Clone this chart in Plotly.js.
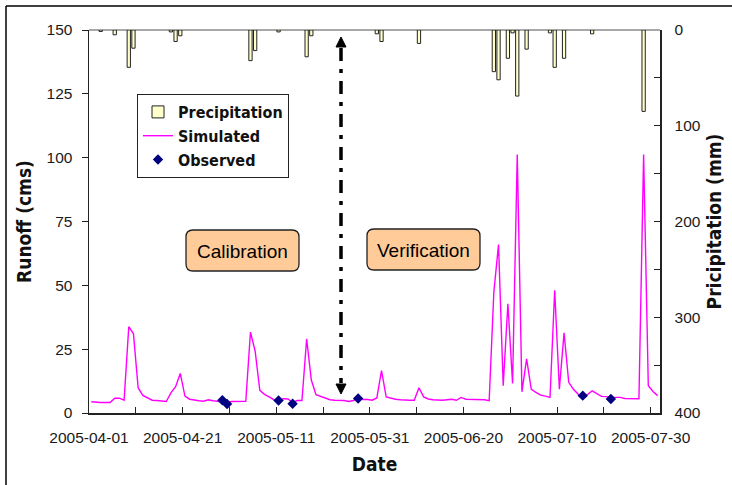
<!DOCTYPE html>
<html>
<head>
<meta charset="utf-8">
<script src="https://cdn.plot.ly/plotly-3.0.1.min.js"></script>
<style>
  html, body { margin: 0; padding: 0; background: #fff; }
  #chart { width: 732px; height: 485px; }
</style>
</head>
<body>
<div id="chart"></div>
<script>
// ---------------- DATA ----------------
const startDate = '2005-04-01';
// Simulated daily runoff (cms), 2005-04-01 .. 2005-07-31
const simulated = [
  4.4, 4.2, 4.1, 4.1, 4.1, 5.8, 5.8, 5.0, 33.8, 31.0,
  9.9, 6.9, 5.9, 5.0, 4.9, 4.6, 4.5, 7.9, 10.3, 15.5,
  6.6, 5.4, 5.0, 4.8, 4.6, 5.2, 4.8, 4.6, 4.6, 4.2,
  4.5, 4.5, 4.6, 4.6, 31.7, 24.2, 8.9, 7.3, 6.3, 5.2,
  4.9, 5.6, 5.5, 4.2, 4.9, 4.9, 29.0, 12.9, 7.2, 6.6,
  5.8, 5.2, 5.0, 5.0, 4.9, 4.5, 4.9, 5.7, 5.3, 5.3,
  5.0, 5.9, 16.6, 6.3, 5.8, 5.4, 5.2, 5.0, 5.0, 5.0,
  9.9, 6.3, 5.5, 5.2, 5.0, 5.0, 5.2, 5.4, 5.0, 6.1,
  5.4, 5.3, 5.2, 5.2, 5.2, 4.8, 47.4, 66.0, 10.7, 42.8,
  11.6, 101.2, 8.3, 21.2, 9.3, 8.1, 7.0, 6.6, 6.1, 48.1,
  9.3, 31.4, 12.0, 9.3, 7.4, 6.5, 7.2, 8.7, 7.7, 6.5,
  6.4, 6.1, 6.1, 6.1, 5.7, 5.6, 5.6, 5.6, 101.2, 10.7,
  8.4, 6.8
];

// Observed runoff (cms)
const observedDates = ['2005-04-29', '2005-04-30', '2005-05-11', '2005-05-14', '2005-05-28', '2005-07-15', '2005-07-21'];
const observedValues = [5.0, 3.5, 4.9, 3.6, 5.7, 6.8, 5.5];

// Precipitation (mm)
const precipDates = [
  '2005-04-03', '2005-04-06', '2005-04-09', '2005-04-10', '2005-04-18', '2005-04-19', '2005-04-20',
  '2005-05-05', '2005-05-06', '2005-05-11', '2005-05-17', '2005-05-18', '2005-06-01', '2005-06-02',
  '2005-06-10', '2005-06-26', '2005-06-27', '2005-06-29', '2005-06-30', '2005-07-01', '2005-07-03',
  '2005-07-08', '2005-07-09', '2005-07-11', '2005-07-17', '2005-07-28'
];
const precipValues = [
  1.5, 5, 39, 19, 2, 12, 6,
  32, 21.5, 2, 28, 6, 4, 12,
  14, 43.5, 52, 29.5, 3, 69, 20,
  3, 39, 29.5, 4, 85
];

// Axis ticks
const xTickVals = ['2005-04-01', '2005-04-11', '2005-04-21', '2005-05-01', '2005-05-11', '2005-05-21', '2005-05-31',
                   '2005-06-10', '2005-06-20', '2005-06-30', '2005-07-10', '2005-07-20', '2005-07-30'];
const xTickText = ['2005-04-01', '', '2005-04-21', '', '2005-05-11', '', '2005-05-31',
                   '', '2005-06-20', '', '2005-07-10', '', '2005-07-30'];
const y2TickVals = [0, 50, 100, 150, 200, 250, 300, 350, 400];
const y2TickText = ['0', '', '100', '', '200', '', '300', '', '400'];

// ---------------- BUILD ----------------
function addDays(iso, n) {
  const d = new Date(iso + 'T00:00:00Z');
  d.setUTCDate(d.getUTCDate() + n);
  return d.toISOString().slice(0, 10);
}
const simDates = simulated.map((_, i) => addDays(startDate, i) + ' 12:00');
const noon = arr => arr.map(d => d + ' 12:00');

const DAY = 86400000;
const tickFont = { family: 'Liberation Sans, Arial, sans-serif', size: 15.5, color: '#1a1a1a' };
const condFamily = 'DejaVu Sans Condensed, DejaVu Sans, sans-serif';
const titleFont = { family: condFamily, size: 19, color: '#111', weight: 'bold', stretch: 'condensed' };

const traces = [
  {
    type: 'bar', name: 'Precipitation',
    x: noon(precipDates), y: precipValues,
    yaxis: 'y2', width: 0.7 * DAY,
    marker: { color: '#FFFFCC', line: { color: '#222', width: 1 } },
    hoverinfo: 'skip'
  },
  {
    type: 'scatter', mode: 'lines', name: 'Simulated',
    x: simDates, y: simulated,
    line: { color: '#FF00FF', width: 1.4 }
  },
  {
    type: 'scatter', mode: 'markers', name: 'Observed',
    x: noon(observedDates), y: observedValues,
    marker: { symbol: 'diamond', color: '#000080', size: 8 }
  }
];

// Helpers for paper coordinates (plot area: x 89..660, y 30..413)
const PX = px => (px - 89) / 571;
const PY = py => (413 - py) / 383;
function roundRect(x0, y0, x1, y1, r) {
  const ax0 = PX(x0), ax1 = PX(x1), ay0 = PY(y1), ay1 = PY(y0);
  const rx = r / 571, ry = r / 383;
  return `M${ax0 + rx},${ay0} L${ax1 - rx},${ay0} Q${ax1},${ay0} ${ax1},${ay0 + ry} ` +
         `L${ax1},${ay1 - ry} Q${ax1},${ay1} ${ax1 - rx},${ay1} L${ax0 + rx},${ay1} ` +
         `Q${ax0},${ay1} ${ax0},${ay1 - ry} L${ax0},${ay0 + ry} Q${ax0},${ay0} ${ax0 + rx},${ay0} Z`;
}
function tri(px, tipY, baseY, halfW) {
  return `M${PX(px)},${PY(tipY)} L${PX(px - halfW)},${PY(baseY)} L${PX(px + halfW)},${PY(baseY)} Z`;
}

const shapes = [
  { type: 'line', xref: 'paper', yref: 'paper', x0: PX(6), x1: PX(6), y0: PY(6), y1: PY(490), line: { color: '#000', width: 1.5 }, layer: 'below' },
  { type: 'line', xref: 'paper', yref: 'paper', x0: PX(6), x1: PX(740), y0: PY(6), y1: PY(6), line: { color: '#000', width: 1.5 }, layer: 'below' },
  { type: 'line', xref: 'paper', yref: 'paper', x0: 0, x1: 1, y0: 1, y1: 1, line: { color: '#A8A8A8', width: 2 }, layer: 'below' },
  { type: 'path', xref: 'paper', yref: 'paper', path: roundRect(186, 230, 299, 271, 7), fillcolor: '#FFCC99', line: { color: '#222', width: 1.3 } },
  { type: 'path', xref: 'paper', yref: 'paper', path: roundRect(367, 229, 480, 270, 7), fillcolor: '#FFCC99', line: { color: '#222', width: 1.3 } },
  { type: 'line', xref: 'paper', yref: 'paper', x0: PX(341), x1: PX(341), y0: PY(48), y1: PY(383), line: { color: '#000', width: 3.5, dash: '13px,8px,4px,8px' } },
  { type: 'path', xref: 'paper', yref: 'paper', path: tri(341, 37, 47, 5), fillcolor: '#000', line: { color: '#000', width: 1 } },
  { type: 'path', xref: 'paper', yref: 'paper', path: tri(341, 394, 384, 5), fillcolor: '#000', line: { color: '#000', width: 1 } }
];

const boxFont = { family: 'Liberation Sans, Arial, sans-serif', size: 19, color: '#000' };
const annotations = [
  { xref: 'paper', yref: 'paper', x: PX(242.5), y: PY(251), text: 'Calibration', showarrow: false, font: boxFont, xanchor: 'center', yanchor: 'middle' },
  { xref: 'paper', yref: 'paper', x: PX(423.5), y: PY(250), text: 'Verification', showarrow: false, font: boxFont, xanchor: 'center', yanchor: 'middle' }
];

const layout = {
  width: 732, height: 485,
  margin: { l: 89, r: 72, t: 30, b: 72, pad: 0 },
  paper_bgcolor: '#fff', plot_bgcolor: '#fff',
  showlegend: true,
  legend: {
    x: PX(137), y: PY(94), xanchor: 'left', yanchor: 'top',
    bordercolor: '#222', borderwidth: 1, bgcolor: '#fff',
    font: { family: condFamily, size: 16, color: '#111', weight: 'bold', stretch: 'condensed' },
    traceorder: 'normal', tracegroupgap: 0
  },
  xaxis: {
    type: 'date', range: ['2005-04-01', '2005-08-01'],
    tickmode: 'array', tickvals: xTickVals, ticktext: xTickText,
    ticks: 'inside', ticklen: 6, tickcolor: '#222', tickwidth: 1,
    showline: true, linecolor: '#222', linewidth: 1.5,
    showgrid: false, zeroline: false, mirror: false,
    tickfont: tickFont, ticklabelstandoff: 10,
    title: { text: 'Date', font: titleFont, standoff: 12 }
  },
  yaxis: {
    range: [0, 150], tickmode: 'linear', tick0: 0, dtick: 25,
    ticks: 'outside', ticklen: 6, tickcolor: '#222', tickwidth: 1,
    showline: true, linecolor: '#222', linewidth: 1.5,
    showgrid: false, zeroline: false,
    tickfont: tickFont, ticklabelstandoff: 6,
    title: { text: 'Runoff (cms)', font: titleFont, standoff: 10 }
  },
  yaxis2: {
    overlaying: 'y', side: 'right', range: [400, 0],
    tickmode: 'array', tickvals: y2TickVals, ticktext: y2TickText,
    ticks: 'inside', ticklen: 6, tickcolor: '#222', tickwidth: 1,
    showline: true, linecolor: '#222', linewidth: 1.5,
    showgrid: false, zeroline: false,
    tickfont: tickFont, ticklabelstandoff: 10,
    title: { text: 'Pricipitation (mm)', font: titleFont, standoff: 8 }
  },
  shapes: shapes,
  annotations: annotations,
  bargap: 0
};

Plotly.newPlot('chart', traces, layout, { displayModeBar: false, staticPlot: true });
</script>
</body>
</html>
